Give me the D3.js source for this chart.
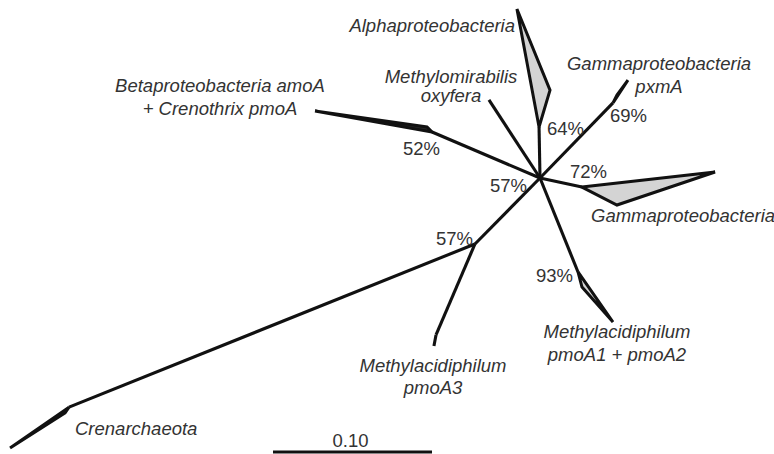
<!DOCTYPE html>
<html>
<head>
<meta charset="utf-8">
<script src="https://cdn.jsdelivr.net/npm/d3@7"></script>
<style>
  html, body { margin: 0; padding: 0; background: #fff; }
  svg { display: block; }
  text { font-family: "Liberation Sans", Arial, sans-serif; fill: #333; }
</style>
</head>
<body>
<script>
// ---- Tree data (node coordinates in substitutions/site, unrooted layout, origin = central node) ----
const nodeNames = ["root","alphaN","alphaT1","alphaT2","pxmN","pxmT","pxmV","mmiT","betaN","betaT","betaV",
                   "gamN","gamT","gamV","macN","macV","macT","lowN","a3B","a3T","crenN","crenT","crenV"];
const nodeU = [0, -0.0006, -0.0145, 0.0063, 0.0459, 0.0553, 0.0484, -0.0321, -0.0679, -0.1415, -0.0711,
               0.0264, 0.1101, 0.0484, 0.0239, 0.0264, 0.0459, -0.0409, -0.0654, -0.0667, -0.2962, -0.3333, -0.2987];
const nodeV = [0, -0.0321, -0.1063, -0.0553, -0.0472, -0.0616, -0.0522, -0.0491, -0.0289, -0.0421, -0.0321,
               0.0057, -0.0038, 0.0170, 0.0591, 0.0686, 0.0906, 0.0415, 0.0987, 0.1057, 0.1441, 0.1698, 0.1478];

const edgeFrom = ["root","root","root","root","root","root","root","lowN","a3B","lowN"];
const edgeTo   = ["alphaN","pxmN","mmiT","betaN","gamN","macN","lowN","a3B","a3T","crenN"];

const cladeNames = ["Alphaproteobacteria","Gammaproteobacteria pxmA","Betaproteobacteria amoA","Gammaproteobacteria","Methylacidiphilum pmoA1 + pmoA2","Crenarchaeota"];
const cladeNodes = [["alphaN","alphaT1","alphaT2"],["pxmN","pxmV","pxmT"],["betaN","betaT","betaV"],
                    ["gamN","gamT","gamV"],["macN","macV","macT"],["crenN","crenT","crenV"]];
const cladeShade = ["light","dark","dark","light","light","dark"];

const bootNodes  = ["alphaN","pxmN","betaN","root","gamN","lowN","macN"];
const bootValues = [64, 69, 52, 57, 72, 57, 93];

const scaleBarValue = 0.10;
const scaleBarLabel = "0.10";

// ---- Layout ----
const W = 774, H = 454;
const pxPerUnit = 1590;
const cx = 540, cy = 178;
const x = d3.scaleLinear().domain([0, 1]).range([cx, cx + pxPerUnit]);
const y = d3.scaleLinear().domain([0, 1]).range([cy, cy + pxPerUnit]);
const idx = n => nodeNames.indexOf(n);
const P = n => [x(nodeU[idx(n)]), y(nodeV[idx(n)])];

const svg = d3.select("body").append("svg").attr("width", W).attr("height", H);

// clade triangles
svg.append("g").selectAll("path").data(cladeNodes).join("path")
  .attr("d", (d) => d3.line()(d.map(P)) + "Z")
  .attr("fill", (d, i) => cladeShade[i] === "light" ? "#d4d4d4" : "#2a2a2a")
  .attr("stroke", "#111")
  .attr("stroke-width", 3)
  .attr("stroke-linejoin", "miter");

// branches
svg.append("g").selectAll("line").data(edgeFrom.map((f, i) => [f, edgeTo[i]])).join("line")
  .attr("x1", d => P(d[0])[0]).attr("y1", d => P(d[0])[1])
  .attr("x2", d => P(d[1])[0]).attr("y2", d => P(d[1])[1])
  .attr("stroke", "#111").attr("stroke-width", 3.1).attr("stroke-linecap", "butt");

// bootstrap labels (offsets from node)
const bootDx = [8, -3, -29, -50, -12, -39, -42];
const bootDy = [8, 19, 23, 14, -9, 1, 10];
svg.append("g").selectAll("text").data(bootValues).join("text")
  .attr("x", (d, i) => P(bootNodes[i])[0] + bootDx[i])
  .attr("y", (d, i) => P(bootNodes[i])[1] + bootDy[i])
  .attr("font-size", 18.5)
  .text(d => d + "%");

// taxon labels
const labelLines = [
  ["Alphaproteobacteria"],
  ["Methylomirabilis", "oxyfera"],
  ["Gammaproteobacteria", "pxmA"],
  ["Betaproteobacteria amoA", "+ Crenothrix pmoA"],
  ["Gammaproteobacteria"],
  ["Methylacidiphilum", "pmoA1 + pmoA2"],
  ["Methylacidiphilum", "pmoA3"],
  ["Crenarchaeota"]
];
const labelX = [515, 451, 659, 220, 591, 617, 433, 75];
const labelY = [32, 83, 70, 92, 222, 338, 372, 435];
const labelAnchor = ["end", "middle", "middle", "middle", "start", "middle", "middle", "start"];
const lineGap = [0, 19, 23, 23, 0, 23, 22, 0];

const lg = svg.append("g");
labelLines.forEach((lines, i) => {
  const t = lg.append("text")
    .attr("x", labelX[i]).attr("y", labelY[i])
    .attr("text-anchor", labelAnchor[i])
    .attr("font-size", 18.5)
    .attr("font-style", "italic");
  lines.forEach((s, j) => {
    t.append("tspan").attr("x", labelX[i]).attr("dy", j === 0 ? 0 : lineGap[i]).text(s);
  });
});

// scale bar
const sbX0 = 273, sbY = 452;
svg.append("line")
  .attr("x1", sbX0).attr("x2", sbX0 + (x(scaleBarValue) - x(0)))
  .attr("y1", sbY).attr("y2", sbY)
  .attr("stroke", "#111").attr("stroke-width", 3);
svg.append("text")
  .attr("x", sbX0 + (x(scaleBarValue) - x(0)) / 2 - 2).attr("y", 447)
  .attr("text-anchor", "middle").attr("font-size", 18.5)
  .text(scaleBarLabel);
</script>
</body>
</html>
